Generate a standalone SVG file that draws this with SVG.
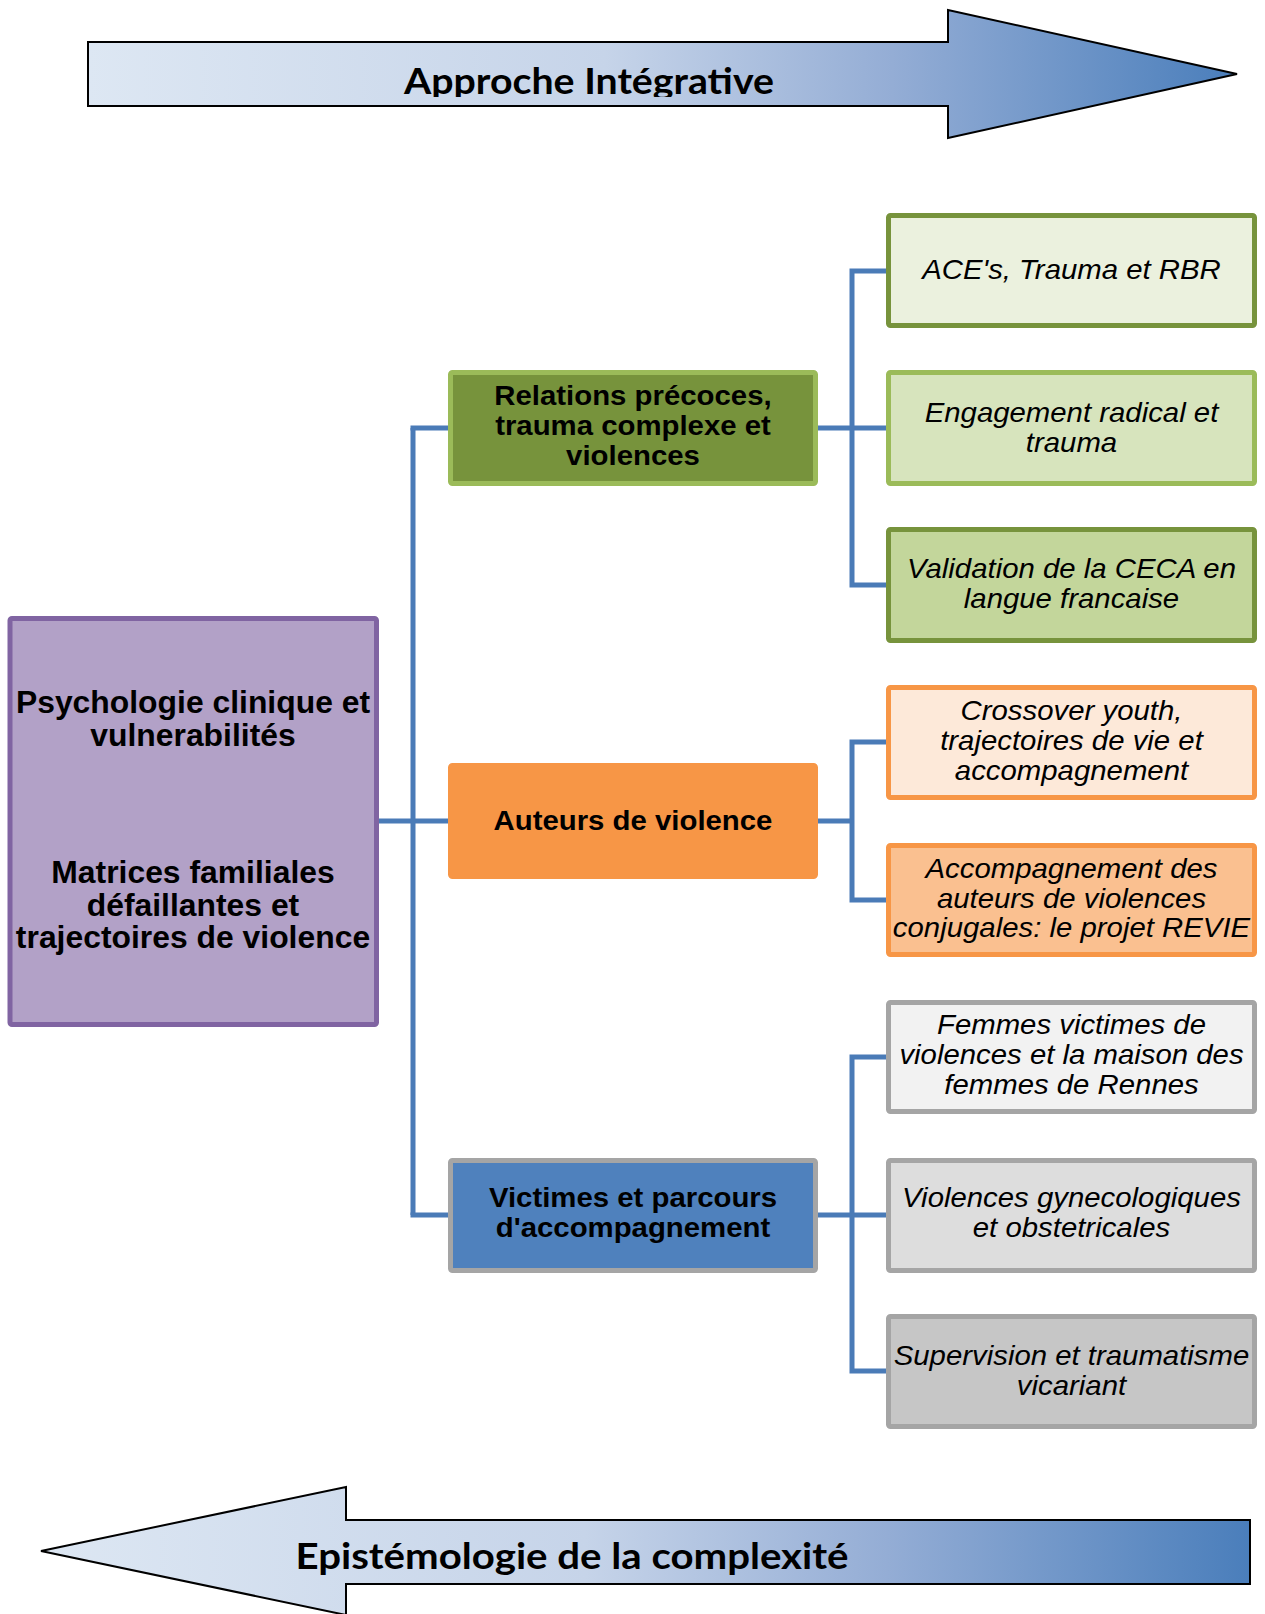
<svg xmlns="http://www.w3.org/2000/svg" width="1265" height="1614" viewBox="0 0 1265 1614">
<defs>
<linearGradient id="arrowGrad" x1="0" y1="0" x2="1" y2="0">
<stop offset="0" stop-color="#dde7f3"/>
<stop offset="0.45" stop-color="#c6d4e9"/>
<stop offset="0.7" stop-color="#94add5"/>
<stop offset="1" stop-color="#4a7ebb"/>
</linearGradient>
<clipPath id="clipTop"><rect x="0" y="0" width="1265" height="97"/></clipPath>
<clipPath id="clipBot"><rect x="0" y="1480" width="1265" height="96"/></clipPath>
</defs>
<style>
.arrow{fill:url(#arrowGrad);stroke:#000;stroke-width:2;stroke-linejoin:miter}
.atext{font-family:Lato,"Liberation Sans",sans-serif;font-weight:700;font-size:36px;fill:#000;text-anchor:middle}
.box{stroke-width:5}
.bold{font-family:"Liberation Sans",Arial,sans-serif;font-weight:700;font-size:28.5px;fill:#000;text-anchor:middle}
.big{font-family:"Liberation Sans",Arial,sans-serif;font-weight:700;font-size:30.5px;fill:#000;text-anchor:middle}
.ital{font-family:"Liberation Sans",Arial,sans-serif;font-style:italic;font-size:28.5px;fill:#000;text-anchor:middle}
.conn{fill:none;stroke:#4a7bb7;stroke-width:5;stroke-linecap:butt;stroke-linejoin:miter}
</style>
<rect width="1265" height="1614" fill="#ffffff"/>

<g id="arrow-top">
<path class="arrow" d="M88,42 L948,42 L948,10 L1237,74 L948,138 L948,106 L88,106 Z"/>
<text class="atext" x="589" y="94" textLength="370" lengthAdjust="spacingAndGlyphs" clip-path="url(#clipTop)">Approche Intégrative</text>
</g>

<g id="arrow-bottom">
<path class="arrow" d="M1250,1520 L346,1520 L346,1487 L41,1551 L346,1615 L346,1584 L1250,1584 Z"/>
<text class="atext" x="572" y="1569" textLength="553" lengthAdjust="spacingAndGlyphs" clip-path="url(#clipBot)">Epistémologie de la complexité</text>
</g>

<g id="connectors">
<path class="conn" d="M379,821 L450,821"/>
<path class="conn" d="M413,428 L413,1215"/>
<path class="conn" d="M410.5,428 L450,428"/>
<path class="conn" d="M410.5,1215 L450,1215"/>
<path class="conn" d="M818,428 L888,428"/>
<path class="conn" d="M888,271 L852,271 L852,585 L888,585"/>
<path class="conn" d="M818,821 L852,821"/>
<path class="conn" d="M888,742 L852,742 L852,900 L888,900"/>
<path class="conn" d="M818,1215 L888,1215"/>
<path class="conn" d="M888,1057 L852,1057 L852,1371 L888,1371"/>
</g>

<g id="node-psychologie">
<rect class="box" x="10" y="618.5" width="366.5" height="406" rx="2" fill="#b2a1c7" stroke="#8064a2"/>
<g transform="matrix(1.045 0 0 1 -8.685 0)">
<text class="big" x="193" y="713">Psychologie clinique et</text>
<text class="big" x="193" y="746">vulnerabilités</text>
<text class="big" x="193" y="883">Matrices familiales</text>
<text class="big" x="193" y="916">défaillantes et</text>
<text class="big" x="193" y="948">trajectoires de violence</text>
</g>
</g>

<g id="node-relations">
<rect class="box" x="450.5" y="372.5" width="365" height="111" rx="2" fill="#77933c" stroke="#9bbb59"/>
<g transform="matrix(1.03 0 0 1 -18.99 0)">
<text class="bold" x="633" y="405">Relations précoces,</text>
<text class="bold" x="633" y="435">trauma complexe et</text>
<text class="bold" x="633" y="465">violences</text>
</g>
</g>

<g id="node-auteurs">
<rect class="box" x="450.5" y="765.5" width="365" height="111" rx="2" fill="#f79646" stroke="#f79646"/>
<g transform="matrix(1.03 0 0 1 -18.99 0)">
<text class="bold" x="633" y="830">Auteurs de violence</text>
</g>
</g>

<g id="node-victimes">
<rect class="box" x="450.5" y="1160.5" width="365" height="110" rx="2" fill="#4f81bd" stroke="#a5a5a5"/>
<g transform="matrix(1.03 0 0 1 -18.99 0)">
<text class="bold" x="633" y="1207">Victimes et parcours</text>
<text class="bold" x="633" y="1237">d'accompagnement</text>
</g>
</g>

<g id="node-aces">
<rect class="box" x="888.5" y="215.5" width="366" height="110" rx="2" fill="#ebf1de" stroke="#77933c"/>
<g transform="matrix(1.03 0 0 1 -32.145 0)">
<text class="ital" x="1071.5" y="279">ACE's, Trauma et RBR</text>
</g>
</g>

<g id="node-engagement">
<rect class="box" x="888.5" y="372.5" width="366" height="111" rx="2" fill="#d7e4bd" stroke="#9bbb59"/>
<g transform="matrix(1.03 0 0 1 -32.145 0)">
<text class="ital" x="1071.5" y="422">Engagement radical et</text>
<text class="ital" x="1071.5" y="452">trauma</text>
</g>
</g>

<g id="node-validation">
<rect class="box" x="888.5" y="529.5" width="366" height="111" rx="2" fill="#c3d69b" stroke="#77933c"/>
<g transform="matrix(1.03 0 0 1 -32.145 0)">
<text class="ital" x="1071.5" y="578">Validation de la CECA en</text>
<text class="ital" x="1071.5" y="608">langue francaise</text>
</g>
</g>

<g id="node-crossover">
<rect class="box" x="888.5" y="687.5" width="366" height="110" rx="2" fill="#fde9d9" stroke="#f79646"/>
<g transform="matrix(1.03 0 0 1 -32.145 0)">
<text class="ital" x="1071.5" y="720">Crossover youth,</text>
<text class="ital" x="1071.5" y="750">trajectoires de vie et</text>
<text class="ital" x="1071.5" y="780">accompagnement</text>
</g>
</g>

<g id="node-revie">
<rect class="box" x="888.5" y="845.5" width="366" height="109" rx="2" fill="#fac090" stroke="#f79646"/>
<g transform="matrix(1.03 0 0 1 -32.145 0)">
<text class="ital" x="1071.5" y="878">Accompagnement des</text>
<text class="ital" x="1071.5" y="908">auteurs de violences</text>
<text class="ital" x="1071.5" y="937">conjugales: le projet REVIE</text>
</g>
</g>

<g id="node-femmes">
<rect class="box" x="888.5" y="1002.5" width="366" height="109" rx="2" fill="#f2f2f2" stroke="#a5a5a5"/>
<g transform="matrix(1.03 0 0 1 -32.145 0)">
<text class="ital" x="1071.5" y="1034">Femmes victimes de</text>
<text class="ital" x="1071.5" y="1064">violences et la maison des</text>
<text class="ital" x="1071.5" y="1094">femmes de Rennes</text>
</g>
</g>

<g id="node-gyneco">
<rect class="box" x="888.5" y="1160.5" width="366" height="110" rx="2" fill="#dddddd" stroke="#a5a5a5"/>
<g transform="matrix(1.03 0 0 1 -32.145 0)">
<text class="ital" x="1071.5" y="1207">Violences gynecologiques</text>
<text class="ital" x="1071.5" y="1237">et obstetricales</text>
</g>
</g>

<g id="node-supervision">
<rect class="box" x="888.5" y="1316.5" width="366" height="110" rx="2" fill="#c6c6c6" stroke="#a5a5a5"/>
<g transform="matrix(1.03 0 0 1 -32.145 0)">
<text class="ital" x="1071.5" y="1365">Supervision et traumatisme</text>
<text class="ital" x="1071.5" y="1395">vicariant</text>
</g>
</g>
</svg>
